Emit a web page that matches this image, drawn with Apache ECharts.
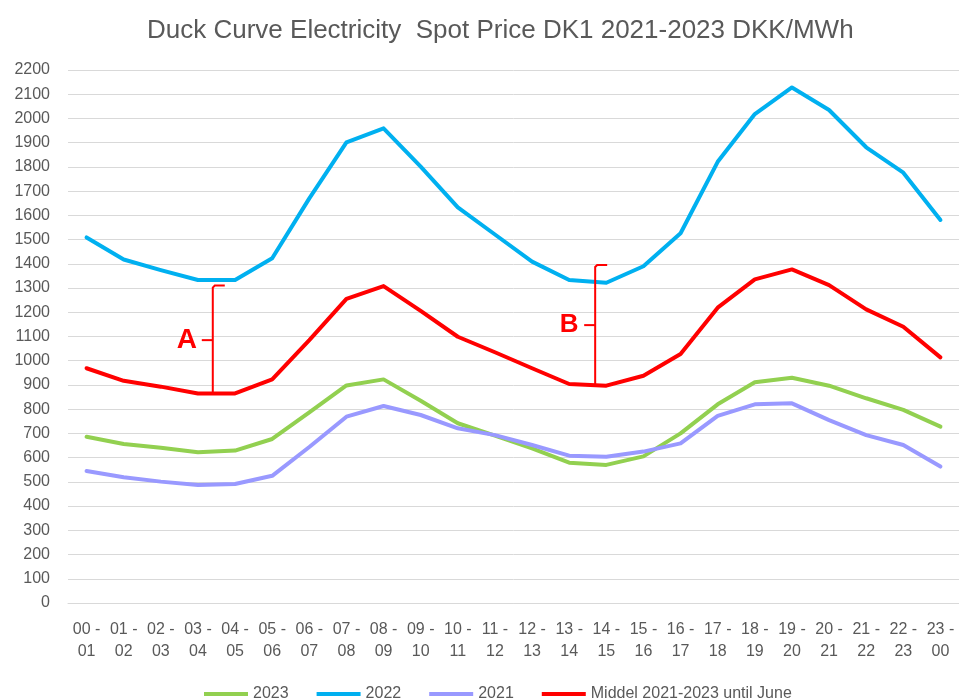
<!DOCTYPE html>
<html>
<head>
<meta charset="utf-8">
<script src="https://cdn.jsdelivr.net/npm/echarts@6/dist/echarts.min.js"></script>
<style>html,body{margin:0;padding:0;background:#fff}#c{width:959px;height:699px}</style>
</head>
<body>
<div id="c"></div>
<script>
var categories = ["00 -\n01","01 -\n02","02 -\n03","03 -\n04","04 -\n05","05 -\n06","06 -\n07","07 -\n08","08 -\n09","09 -\n10","10 -\n11","11 -\n12","12 -\n13","13 -\n14","14 -\n15","15 -\n16","16 -\n17","17 -\n18","18 -\n19","19 -\n20","20 -\n21","21 -\n22","22 -\n23","23 -\n00"];
var y2023 = [686,656,641,622,629,677,787,898,923,835,742,691,638,579,570,605,700,820,911,930,897,845,797,728];
var y2022 = [1509,1418,1374,1333,1333,1423,1670,1901,1959,1801,1633,1521,1409,1333,1322,1390,1526,1821,2018,2128,2035,1881,1776,1581];
var y2021 = [545,519,501,487,491,525,644,769,813,776,721,693,652,608,604,625,659,772,820,824,755,693,652,563];
var yMiddel = [969,917,893,865,865,923,1085,1255,1308,1206,1099,1035,969,904,897,938,1028,1219,1336,1377,1312,1212,1140,1014];
var seriesNames = ["2023","2022","2021","Middel 2021-2023 until June"];
var yTicks = {min:0, max:2200, interval:100};
// annotations: [label, category position, bottom value, top value, mid value]
var annA = ["A", 3.4, 865, 1310, 1085];
var annB = ["B", 13.7, 897, 1395, 1147];

var font = "Liberation Sans, Arial, sans-serif";
var chart = echarts.init(document.getElementById('c'));
function mk(name, data, color){
  return {name:name, type:'line', data:data, symbol:'none', smooth:false,
    lineStyle:{color:color, width:4, cap:'round', join:'round'}, itemStyle:{color:color}};
}
chart.setOption({
  animation:false,
  backgroundColor:'#fff',
  title:{text:'Duck Curve Electricity  Spot Price DK1 2021-2023 DKK/MWh', left:142, top:13,
    textStyle:{fontFamily:font, fontSize:26, fontWeight:'normal', color:'#595959'}},
  grid:{left:68, top:70, width:900, height:533},
  legend:{left:199, top:681, itemWidth:44, itemHeight:4, itemGap:28, icon:'rect',
    textStyle:{fontFamily:font, fontSize:16, color:'#595959'}, data:seriesNames},
  xAxis:{type:'category', data:categories, boundaryGap:true,
    axisLine:{lineStyle:{color:'#d9d9d9'}}, axisTick:{show:false},
    axisLabel:{fontFamily:font, fontSize:16, color:'#595959', margin:16, lineHeight:22, interval:0}},
  yAxis:{type:'value', min:yTicks.min, max:yTicks.max, interval:yTicks.interval,
    axisLine:{show:false}, axisTick:{show:false},
    splitLine:{lineStyle:{color:'#d9d9d9', width:1}},
    axisLabel:{fontFamily:font, fontSize:16, color:'#595959', margin:18,
      formatter:function(v){return String(v);}}},
  series:[mk(seriesNames[0], y2023, '#92D050'), mk(seriesNames[1], y2022, '#00B0F0'),
          mk(seriesNames[2], y2021, '#9999FF'), mk(seriesNames[3], yMiddel, '#FF0000')]
});

function xPix(pos){
  var i = Math.floor(pos), f = pos - i;
  var a = chart.convertToPixel({xAxisIndex:0}, i);
  var b = chart.convertToPixel({xAxisIndex:0}, i+1);
  return a + (b-a)*f;
}
function yPix(v){ return chart.convertToPixel({yAxisIndex:0}, v); }
function bracket(ann, fs){
  var x = xPix(ann[1]), yb = yPix(ann[2]), yt = yPix(ann[3]), ym = yPix(ann[4]);
  var st = {stroke:'#FF0000', lineWidth:2, fill:null};
  return [
    {type:'polyline', shape:{points:[[x,yb],[x,yt+2],[x+2,yt],[x+12,yt]]}, style:st, z:100},
    {type:'polyline', shape:{points:[[x,ym],[x-11,ym]]}, style:st, z:100},
    {type:'text', x:x-26, y:ym, style:{text:ann[0], fill:'#FF0000', font:'bold '+fs+'px '+font,
      textAlign:'center', textVerticalAlign:'middle'}, z:100}
  ];
}
chart.setOption({graphic:{elements:bracket(annA,28).concat(bracket(annB,26))}});
</script>
</body>
</html>
